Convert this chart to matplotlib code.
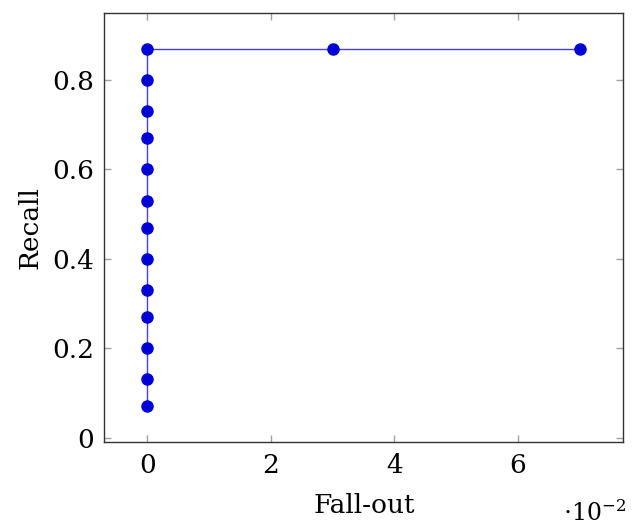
import matplotlib.pyplot as plt

# fall-out in units of 1e-2, recall
fallout = [0, 0, 0, 0, 0, 0, 0, 0, 0, 0, 0, 0, 0, 3, 7]
recall = [0.07, 0.13, 0.2, 0.27, 0.33, 0.4, 0.47, 0.53, 0.6, 0.67, 0.73, 0.8, 0.87, 0.87, 0.87]
xticks = [0, 2, 4, 6]
yticks = [0, 0.2, 0.4, 0.6, 0.8]

plt.rcParams['font.family'] = ['DejaVu Serif']
plt.rcParams['mathtext.fontset'] = 'dejavuserif'
fs = 19

fig = plt.figure(figsize=(6.32, 5.27), dpi=100)
ax = fig.add_axes([0.1646, 0.1613, 0.8212, 0.814])

ax.plot(fallout, recall, color='#4040ff', linewidth=1.0, marker='o',
        markersize=8, markerfacecolor='#0000d8', markeredgecolor='#0000d8')

ax.set_xlim(-0.7, 7.7)
ax.set_ylim(-0.01, 0.95)
ax.set_xticks(xticks)
ax.set_yticks(yticks)
ax.set_xticklabels([str(t) for t in xticks])
ax.set_yticklabels(['0' if t == 0 else f'{t:.1f}' for t in yticks])

ax.tick_params(direction='in', length=5, color='#a0a0a0', width=1.0,
               top=True, right=True, labelsize=fs)
ax.tick_params(axis='x', pad=8)
ax.tick_params(axis='y', pad=7)
for s in ax.spines.values():
    s.set_linewidth(1.0)
    s.set_color('#333333')

ax.set_xlabel('Fall-out', fontsize=fs, va='center')
ax.xaxis.set_label_coords(0.501, -0.147)
ax.set_ylabel('Recall', fontsize=fs, va='center')
ax.yaxis.set_label_coords(-0.143, 0.5)
fig.text(0.99, 0.012, r'$\cdot 10^{-2}$', fontsize=17, ha='right', va='baseline')

fig.savefig('out.png', dpi=100)
